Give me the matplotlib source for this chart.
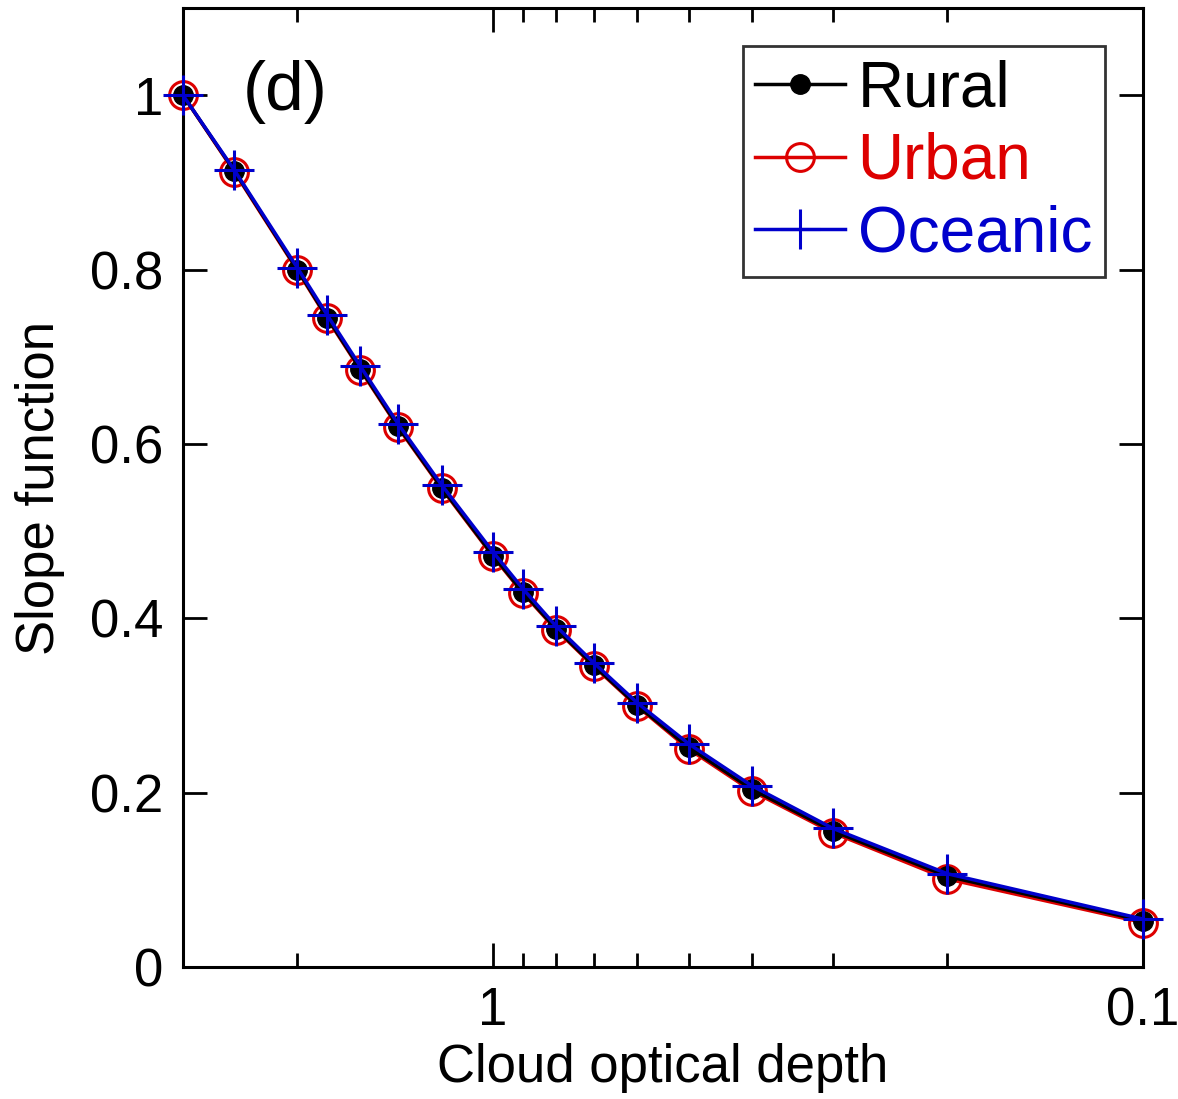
import numpy as np
import matplotlib
matplotlib.use("Agg")
import matplotlib.pyplot as plt

plt.rcParams['font.family'] = ['Liberation Sans', 'DejaVu Sans']

# cloud optical depth and slope function values
tau = [3, 2.5, 2, 1.8, 1.6, 1.4, 1.2, 1, 0.9, 0.8, 0.7, 0.6, 0.5, 0.4, 0.3, 0.2, 0.1]
rural = [1.0, 0.913, 0.800, 0.745, 0.686, 0.620, 0.550, 0.472, 0.430, 0.388,
         0.346, 0.300, 0.252, 0.204, 0.156, 0.104, 0.053]
urban = [1.0, 0.912, 0.799, 0.744, 0.685, 0.619, 0.549, 0.471, 0.429, 0.387,
         0.345, 0.299, 0.250, 0.202, 0.154, 0.101, 0.051]
oceanic = [1.0, 0.914, 0.802, 0.748, 0.689, 0.623, 0.553, 0.476, 0.434, 0.391,
           0.349, 0.303, 0.256, 0.208, 0.159, 0.107, 0.055]

xticks = [1, 0.1]
xticklabels = ["1", "0.1"]
xminor = [2, 0.9, 0.8, 0.7, 0.6, 0.5, 0.4, 0.3, 0.2]
yticks = [0, 0.2, 0.4, 0.6, 0.8, 1.0]
yticklabels = ["0", "0.2", "0.4", "0.6", "0.8", "1"]

red = "#dd0000"
blue = "#0000cc"

fig = plt.figure(figsize=(11.78, 10.99), dpi=100)
ax = fig.add_axes([0.1553, 0.1201, 0.815, 0.8726])

ax.plot(tau, rural, color="black", lw=2.5, marker="o", ms=14,
        label="Rural", clip_on=False, zorder=3)
ax.plot(tau, urban, color=red, lw=2.5, marker="o", ms=20, mfc="none",
        mew=2.2, label="Urban", clip_on=False, zorder=2)
ax.plot(tau, oceanic, color=blue, lw=2.5, marker="+", ms=29, mew=2.2,
        label="Oceanic", clip_on=False, zorder=4)

ax.set_xscale("log")
ax.set_xlim(3, 0.1)
ax.set_ylim(0, 1.1)

ax.set_xticks(xticks)
ax.set_xticklabels(xticklabels)
ax.set_xticks(xminor, minor=True)
ax.set_xticklabels([], minor=True)
ax.set_yticks(yticks)
ax.set_yticklabels(yticklabels)

ax.tick_params(which="both", direction="in", top=True, right=True,
               width=2, labelsize=38, pad=14)
ax.tick_params(which="major", length=17)
ax.tick_params(which="minor", length=10)
for s in ax.spines.values():
    s.set_linewidth(2.2)

ax.set_xlabel("Cloud optical depth", fontsize=38, labelpad=5)
ax.set_ylabel("Slope function", fontsize=38, labelpad=18)

ax.text(0.062, 0.912, "(d)", transform=ax.transAxes, fontsize=50,
        va="center", ha="left")

leg = ax.legend(loc="upper right", fontsize=46, frameon=True, fancybox=False,
                edgecolor="black", handlelength=1.4, handletextpad=0.2,
                borderpad=0.2, labelspacing=0.2, borderaxespad=0.6,
                markerscale=1.0)
leg.get_frame().set_linewidth(2)
for t, c in zip(leg.get_texts(), ["black", red, blue]):
    t.set_color(c)

fig.savefig("out.png", dpi=100)
